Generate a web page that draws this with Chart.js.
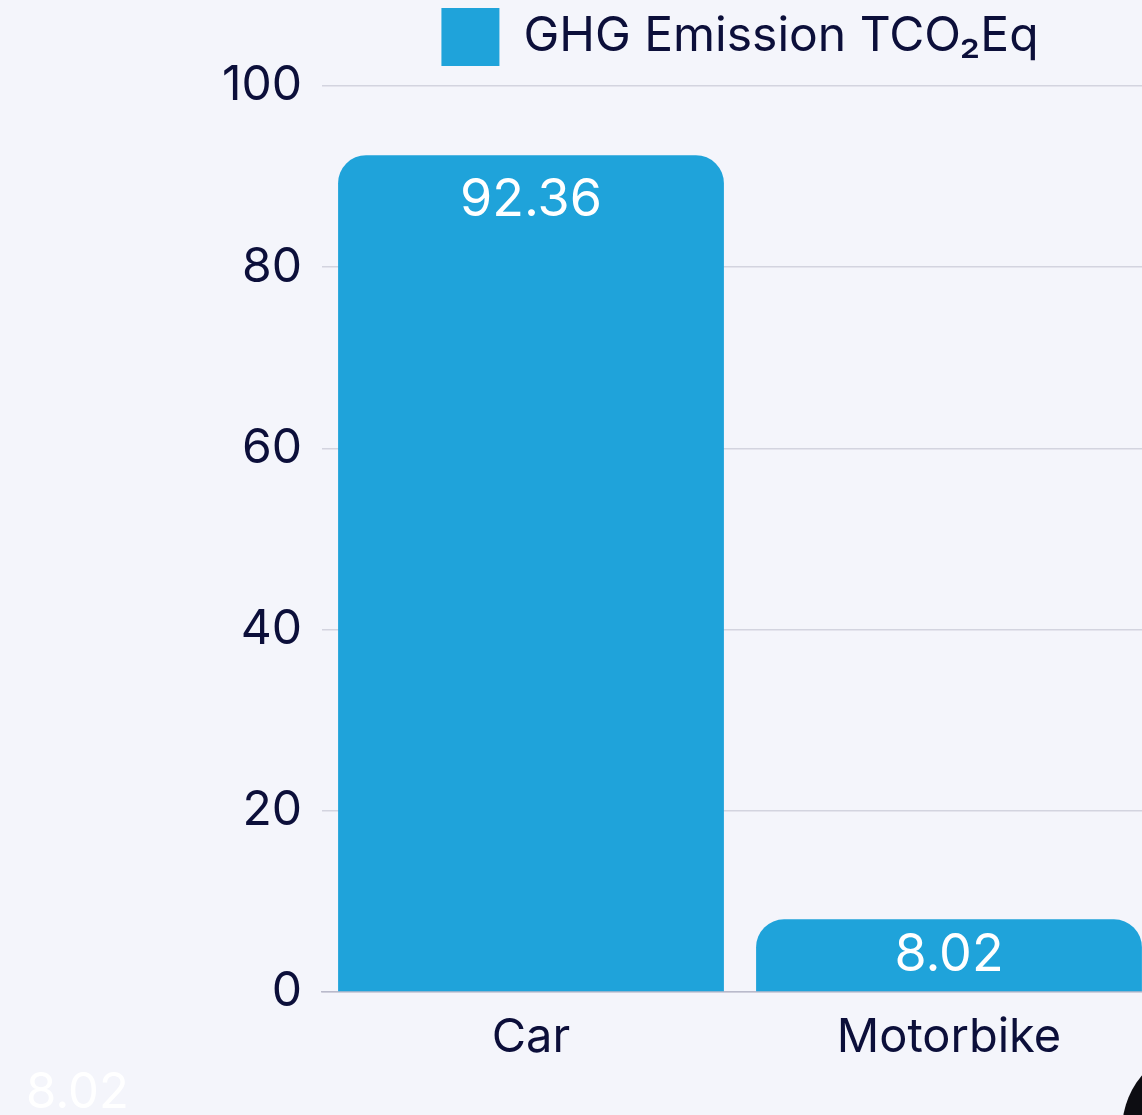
<!DOCTYPE html>
<html>
<head>
<meta charset="utf-8">
<script src="https://cdn.jsdelivr.net/npm/chart.js@4"></script>
<style>
  html, body { margin: 0; padding: 0; background: #f4f5fb; overflow: hidden; }
  #wrap { position: relative; width: 1158px; height: 1115px; }
  #ghost { position: absolute; left: 26px; top: 1061px; font: 49px Inter, sans-serif; color: #ffffff; }
  #blob { position: absolute; left: 1122px; top: 1045px; width: 170px; height: 170px; border-radius: 50%; background: #0d0d12; }
</style>
</head>
<body>
<div id="wrap">
  <canvas id="myChart" width="1158" height="1115"></canvas>
  <div id="ghost">8.02</div>
  <div id="blob"></div>
</div>
<script>
// datos del grafico
var vehiculos = ['Car', 'Motorbike'];
var emisiones = [92.36, 8.02];
var serieNombre = 'GHG Emission TCO₂Eq';

var azul = '#1fa3da';
var textoOscuro = '#0c0f3a';

// etiquetas de valor dentro de la barra
var etiquetasValor = {
    id: 'etiquetasValor',
    afterDatasetsDraw: function (chart) {
        var ctx = chart.ctx;
        var meta = chart.getDatasetMeta(0);
        ctx.save();
        ctx.fillStyle = '#ffffff';
        ctx.font = '52px Inter';
        ctx.textAlign = 'center';
        ctx.textBaseline = 'middle';
        meta.data.forEach(function (bar, i) {
            var y = Math.min(bar.y + 45, (bar.y + bar.base) / 2);
            ctx.fillText(String(chart.data.datasets[0].data[i]), bar.x, y);
        });
        ctx.restore();
    }
};

var ctx = document.getElementById('myChart').getContext('2d');
new Chart(ctx, {
    type: 'bar',
    data: {
        labels: vehiculos,
        datasets: [{
            label: serieNombre,
            data: emisiones,
            backgroundColor: azul,
            borderRadius: { topLeft: 28, topRight: 28 },
            borderSkipped: 'bottom',
            categoryPercentage: 1,
            barPercentage: 0.923
        }]
    },
    options: {
        responsive: false,
        animation: false,
        layout: { padding: 0 },
        plugins: {
            legend: {
                position: 'top',
                fullSize: false,
                labels: {
                    boxWidth: 58,
                    boxHeight: 58,
                    padding: 8,
                    color: textoOscuro,
                    font: { family: 'Inter', size: 48 }
                }
            },
            // espacio vacio entre leyenda y grafico
            title: {
                display: true,
                text: ' ',
                weight: 500,
                fullSize: false,
                padding: 0,
                font: { size: 10, lineHeight: 1 }
            },
            tooltip: { enabled: false }
        },
        scales: {
            y: {
                min: 0,
                max: 100,
                ticks: {
                    stepSize: 20,
                    padding: 20,
                    color: textoOscuro,
                    font: { family: 'Inter', size: 48 }
                },
                grid: { color: '#d3d4df', lineWidth: 1.5, drawTicks: false },
                border: { display: false },
                afterFit: function (s) { s.width = 322; }
            },
            x: {
                ticks: {
                    padding: 10,
                    color: textoOscuro,
                    font: { family: 'Inter', size: 47 }
                },
                grid: { display: false },
                border: { color: '#b9bacb', width: 1.5 },
                afterFit: function (s) { s.height = 123; }
            }
        }
    },
    plugins: [etiquetasValor]
});
</script>
</body>
</html>
